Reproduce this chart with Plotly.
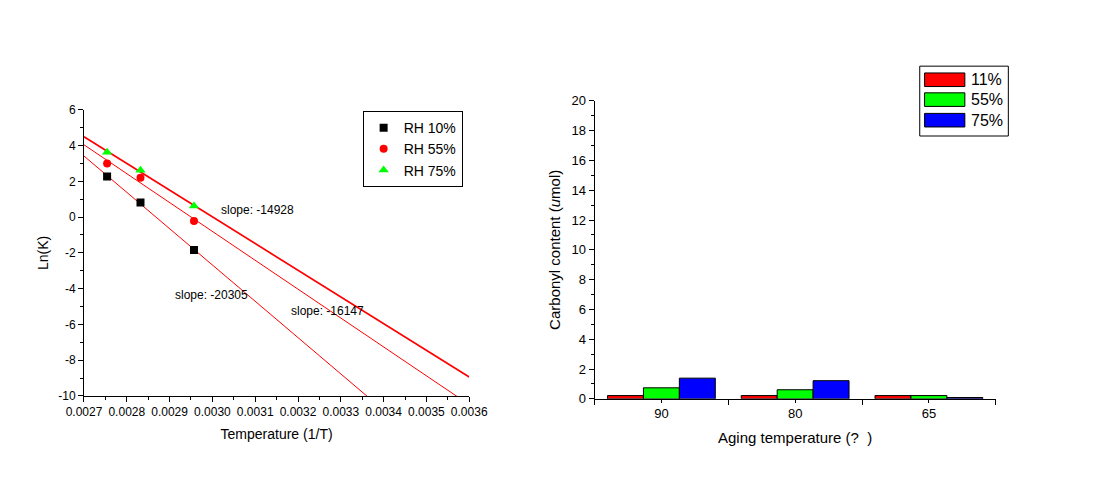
import numpy as np
import plotly.graph_objects as go

# ---------------- data ----------------
# Left panel: Arrhenius plot
inv_T = [0.002754, 0.002832, 0.002957]          # 1/T for 90, 80, 65 degC
lnK_rh10 = [2.27, 0.82, -1.84]
lnK_rh55 = [3.00, 2.20, -0.22]
lnK_rh75 = [3.62, 2.62, 0.62]
series_names = ["RH 10%", "RH 55%", "RH 75%"]
slopes = [-20305, -16147, -14928]
x_range = [0.0027, 0.0036]
lnk_ticks = [-10, -8, -6, -4, -2, 0, 2, 4, 6]

# Right panel: carbonyl content
categories = ["90", "80", "65"]
bar_names = ["11%", "55%", "75%"]
carb_11 = [0.22, 0.22, 0.22]
carb_55 = [0.74, 0.61, 0.22]
carb_75 = [1.39, 1.22, 0.09]

W, H = 1094, 499
FONT = "Arial, Liberation Sans, sans-serif"


def px(x):
    return x / W


def py(y):
    return 1 - y / H


fig = go.Figure()

# ----- fitted lines (least squares with the reported slope) -----
line_widths = [1, 1, 1.7]
for ys, s, lw in zip([lnK_rh10, lnK_rh55, lnK_rh75], slopes, line_widths):
    mx, my = np.mean(inv_T), np.mean(ys)
    xf = np.array(x_range)
    yf = my + s * (xf - mx)
    fig.add_trace(go.Scatter(x=xf, y=yf, mode="lines", line=dict(color="#ff0000", width=lw),
                             showlegend=False, hoverinfo="skip", xaxis="x", yaxis="y"))

# ----- data points -----
marker_styles = [("square", "#000000", 8), ("circle", "#ff0000", 8), ("triangle-up", "#00ff00", 9)]
for ys, name, (sym, col, sz) in zip([lnK_rh10, lnK_rh55, lnK_rh75], series_names, marker_styles):
    fig.add_trace(go.Scatter(x=inv_T, y=ys, mode="markers", name=name,
                             marker=dict(symbol=sym, color=col, size=sz, line=dict(width=0)),
                             xaxis="x", yaxis="y", legend="legend"))

# ----- bars -----
bar_colors = ["#ff0000", "#00ff00", "#0000ff"]
xpos = list(range(len(categories)))
for vals, name, col in zip([carb_11, carb_55, carb_75], bar_names, bar_colors):
    fig.add_trace(go.Bar(x=xpos, y=vals, name=name, marker=dict(color=col, line=dict(color="black", width=1)),
                         xaxis="x2", yaxis="y2", showlegend=False))

axis_common = dict(showline=True, linecolor="black", linewidth=1, ticks="outside", tickcolor="black",
                   showgrid=False, zeroline=False, mirror=False,
                   tickfont=dict(family=FONT, size=12, color="black"))

fig.update_layout(
    width=W, height=H, autosize=False,
    margin=dict(l=0, r=0, t=0, b=0),
    paper_bgcolor="white", plot_bgcolor="white",
    font=dict(family=FONT, color="black"),
    barmode="group", bargap=0.194, bargroupgap=0,
    xaxis=dict(domain=[px(68.3), px(467)], anchor="y", range=x_range, dtick=0.0001, tick0=0.0027,
               tickformat=".4f", ticklen=5,
               minor=dict(dtick=0.00005, ticklen=3, ticks="outside", tickcolor="black"),
               title=dict(text="Temperature (1/T)", font=dict(family=FONT, size=14), standoff=10),
               **axis_common),
    yaxis=dict(domain=[py(401), py(106)], anchor="x", range=[-10, 6],
               tickmode="array", tickvals=lnk_ticks, ticktext=[str(t) for t in lnk_ticks], ticklen=5,
               minor=dict(tick0=-10, dtick=1, ticklen=3, ticks="outside", tickcolor="black"),
               title=dict(text="Ln(K)", font=dict(family=FONT, size=14), standoff=6),
               **axis_common),
    xaxis2=dict(domain=[px(596.7), px(1012)], anchor="y2", range=[-0.5, 2.5],
                tickvals=xpos, ticktext=categories, ticklen=3,
                minor=dict(tick0=-0.5, dtick=1, ticklen=5, ticks="outside", tickcolor="black"),
                title=dict(text="Aging temperature (?  )", font=dict(family=FONT, size=15), standoff=12),
                **{**axis_common, "tickfont": dict(family=FONT, size=13, color="black")}),
    yaxis2=dict(domain=[py(404), py(96.7)], anchor="x2", range=[0, 20], dtick=2, ticklen=5,
                minor=dict(dtick=1, ticklen=3, ticks="outside", tickcolor="black"),
                title=dict(text="Carbonyl content (<i>u</i>mol)", font=dict(family=FONT, size=15), standoff=7),
                **{**axis_common, "tickfont": dict(family=FONT, size=13, color="black")}),
    legend=dict(x=px(356.7), y=py(107.3), xanchor="left", yanchor="top",
                bordercolor="black", borderwidth=1, bgcolor="white",
                font=dict(family=FONT, size=14, color="black"), tracegroupgap=0,
                itemwidth=30),
)

# ----- slope annotations -----
slope_pos = [(0.002909, -4.38), (0.003178, -5.25), (0.003015, 0.42)]
for s, (ax_, ay_) in zip(slopes, slope_pos):
    fig.add_annotation(x=ax_, y=ay_, xref="x", yref="y", text=f"slope: {s}", showarrow=False,
                       xanchor="left", yanchor="middle", font=dict(family=FONT, size=12, color="black"))

# ----- manual legend for bar chart -----
fig.add_shape(type="rect", xref="paper", yref="paper", x0=px(933.3), x1=px(1025), y0=py(133), y1=py(61),
              line=dict(color="black", width=1), fillcolor="white", layer="above")
row_y = [75, 95.5, 116.7]
for name, col, yc in zip(bar_names, bar_colors, row_y):
    fig.add_shape(type="rect", xref="paper", yref="paper", x0=px(938.3), x1=px(980),
                  y0=py(yc + 7), y1=py(yc - 7), line=dict(color="black", width=1), fillcolor=col, layer="above")
    fig.add_annotation(x=px(984), y=py(yc), xref="paper", yref="paper", text=name, showarrow=False,
                       xanchor="left", yanchor="middle", font=dict(family=FONT, size=16, color="black"))

fig.write_html("out.html")
